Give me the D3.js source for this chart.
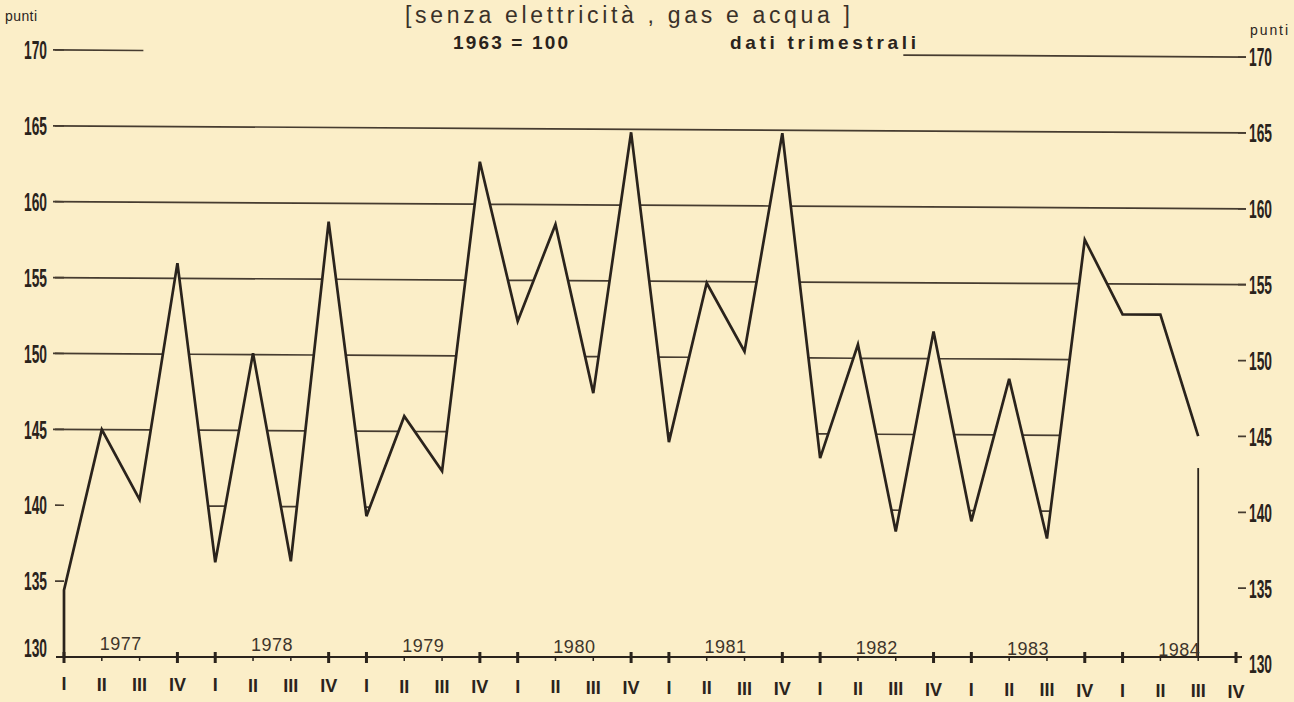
<!DOCTYPE html>
<html><head><meta charset="utf-8">
<script src="https://cdn.jsdelivr.net/npm/d3@7"></script>
<style>
html,body{margin:0;padding:0;background:#fbeec8;}
svg{display:block;}
</style></head><body>
<svg id="chart" width="1294" height="702"></svg>
<script>
// ---- data ----
const years = ["1977","1978","1979","1980","1981","1982","1983","1984"];
const quarterLabels = ["I","II","III","IV"];
const values = [134.4,145.0,140.4,156.0, 136.3,150.1,136.4,158.8, 139.4,146.0,142.4,162.8,
                152.3,158.7,147.6,164.8, 144.4,154.9,150.4,164.8, 143.4,150.9,138.6,151.8,
                139.3,148.7,138.2,157.9, 153.0,153.0,145.0];
const yTicks = [130,135,140,145,150,155,160,165,170];
const titleLine = "[senza elettricità , gas e acqua ]";
const baseLabel = "1963 = 100";
const freqLabel = "dati trimestrali";
const unitLabel = "punti";

// ---- layout ----
const W = 1294, H = 702;
const nQ = years.length * 4;
const x = d3.scaleLinear().domain([0, nQ - 1]).range([64, 1236]);
const y = d3.scaleLinear().domain([130, 170]).range([657, 50]);
const k = 0.006;                       // slight print skew of the page
const sy = (px, py) => py + k * (px - 64);
const ink = "#2a231c", gridC = "#463c30", bg = "#fbeec8";
const xLeft = 53, xRight = 1246;

const svg = d3.select("#chart");
svg.append("rect").attr("width", W).attr("height", H).attr("fill", bg);

// ---- gridlines: drawn only above the curve ----
function aboveIntervals(L) {
  const iv = []; let start = null;
  for (let i = 0; i < values.length; i++) {
    const v = values[i];
    if (i === 0) { if (v < L) start = 0; continue; }
    const p = values[i - 1];
    if (start === null && p >= L && v < L) start = i - 1 + (p - L) / (p - v);
    else if (start !== null && v >= L) { iv.push([start, i - 1 + (L - p) / (v - p)]); start = null; }
  }
  if (start !== null) iv.push([start, values.length - 1]);
  const last = values.length - 1;
  return iv.filter(([a, b]) => !((a === 0 || b === last) && !(a === 0 && b === last) && (b - a) < 1));
}
const gridG = svg.append("g");
const segs = [];
yTicks.filter(t => t > 130 && t < 170).forEach(t => {
  aboveIntervals(t).forEach(([a, b]) => {
    const last = values.length - 1;
    segs.push({t, x1: a === 0 ? xLeft : x(a), x2: b === last ? xRight : x(b)});
  });
});
// top line is interrupted by the heading
segs.push({t: 170, x1: xLeft, x2: x(2.1)});
segs.push({t: 170, x1: x(22.2), x2: xRight});
gridG.selectAll("line.grid").data(segs).join("line")
  .attr("x1", d => d.x1).attr("x2", d => d.x2)
  .attr("y1", d => sy(d.x1, y(d.t))).attr("y2", d => sy(d.x2, y(d.t)))
  .attr("stroke", gridC).attr("stroke-width", 1.7);

// small dashes beside the labels
yTicks.filter(t => t > 130).forEach(t => {
  gridG.append("line").attr("x1", xLeft + 2).attr("x2", 64)
    .attr("y1", sy(xLeft, y(t))).attr("y2", sy(64, y(t)))
    .attr("stroke", gridC).attr("stroke-width", 1.7);
  gridG.append("line").attr("x1", 1238).attr("x2", xRight)
    .attr("y1", sy(1238, y(t))).attr("y2", sy(xRight, y(t)))
    .attr("stroke", gridC).attr("stroke-width", 1.7);
});

// ---- axis labels (left and right) ----
const numFont = "'Liberation Sans', Arial, sans-serif";
yTicks.forEach(t => {
  const ly = sy(40, y(t)) - (t === 130 ? 9 : 0);
  svg.append("text").attr("x", 47).attr("y", ly).attr("dy", "0.36em")
    .attr("text-anchor", "end").attr("font-family", numFont).attr("font-weight", "bold")
    .attr("font-size", 26).attr("textLength", 23).attr("lengthAdjust", "spacingAndGlyphs")
    .attr("fill", ink).text(t);
  svg.append("text").attr("x", 1249).attr("y", sy(1250, y(t))).attr("dy", "0.36em")
    .attr("text-anchor", "start").attr("font-family", numFont).attr("font-weight", "bold")
    .attr("font-size", 26).attr("textLength", 23).attr("lengthAdjust", "spacingAndGlyphs")
    .attr("fill", ink).text(t);
});
svg.append("text").attr("x", 5).attr("y", 21).attr("font-family", numFont)
  .attr("font-size", 14).attr("fill", ink).attr("textLength", 32).text(unitLabel);
svg.append("text").attr("x", 1250).attr("y", 35).attr("font-family", numFont)
  .attr("font-size", 14).attr("fill", ink).attr("textLength", 38).text(unitLabel);

// ---- headings ----
svg.append("text").attr("x", 405).attr("y", 23).attr("font-family", numFont)
  .attr("font-size", 23).attr("fill", "#3a3128").attr("textLength", 445)
  .attr("lengthAdjust", "spacing").text(titleLine);
svg.append("text").attr("x", 453).attr("y", 49).attr("font-family", numFont)
  .attr("font-weight", "bold").attr("font-size", 19).attr("fill", ink)
  .attr("textLength", 115).attr("lengthAdjust", "spacing").text(baseLabel);
svg.append("text").attr("x", 730).attr("y", 49).attr("font-family", numFont)
  .attr("font-weight", "bold").attr("font-size", 19).attr("fill", ink)
  .attr("textLength", 186).attr("lengthAdjust", "spacing").text(freqLabel);

// ---- data line ----
const pts = values.map((v, i) => [x(i), sy(x(i), y(v))]);
const line = d3.line();
svg.append("path")
  .attr("d", line([[x(0), y(130)], ...pts]))
  .attr("fill", "none").attr("stroke", ink).attr("stroke-width", 2.7)
  .attr("stroke-linejoin", "miter");
const lastI = values.length - 1;
svg.append("line").attr("x1", x(lastI)).attr("x2", x(lastI))
  .attr("y1", sy(x(lastI), y(values[lastI] - 2.1))).attr("y2", y(130))
  .attr("stroke", ink).attr("stroke-width", 1.8);

// ---- bottom axis ----
svg.append("line").attr("x1", xLeft + 3).attr("x2", 1242).attr("y1", y(130)).attr("y2", y(130))
  .attr("stroke", ink).attr("stroke-width", 2);
const qIdx = d3.range(nQ);
const major = d => (d % 4 === 0 || d % 4 === 3);
svg.selectAll("line.qtick").data(qIdx).join("line")
  .attr("x1", d => x(d)).attr("x2", d => x(d))
  .attr("y1", d => major(d) ? y(130) - 5 : y(130))
  .attr("y2", d => major(d) ? y(130) + 6 : y(130) + 4)
  .attr("stroke", ink).attr("stroke-width", d => major(d) ? 3 : 1.5);
svg.selectAll("text.q").data(qIdx).join("text")
  .attr("x", d => x(d)).attr("y", d => sy(x(d), 684)).attr("dy", "0.36em")
  .attr("text-anchor", "middle").attr("font-family", numFont).attr("font-weight", "bold")
  .attr("font-size", 18).attr("fill", ink).text(d => quarterLabels[d % 4]);
svg.selectAll("text.yr").data(years).join("text")
  .attr("x", (d, i) => x(i * 4 + 1.5)).attr("y", (d, i) => sy(x(i * 4 + 1.5), 643)).attr("dy", "0.36em")
  .attr("text-anchor", "middle").attr("font-family", numFont)
  .attr("font-size", 18).attr("fill", "#3e352b").attr("letter-spacing", 0.5).text(d => d);
</script>
</body></html>
